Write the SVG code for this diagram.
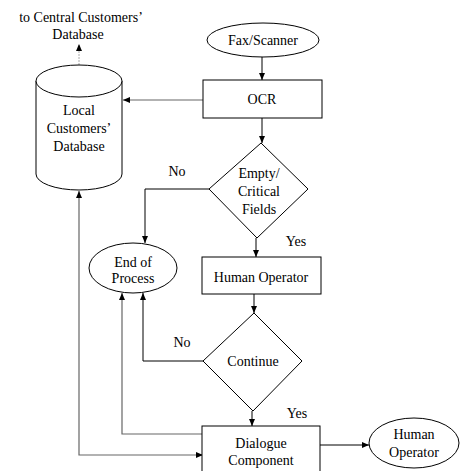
<svg xmlns="http://www.w3.org/2000/svg" width="461" height="471" viewBox="0 0 461 471" font-family="'Liberation Serif', 'Times New Roman', 'DejaVu Serif', serif">
<defs>
<marker id="ah" markerWidth="8" markerHeight="8" refX="7" refY="4" orient="auto" markerUnits="userSpaceOnUse">
<path d="M0,1 L7,4 L0,7 Z" fill="#000"/>
</marker>
<marker id="ahs" markerWidth="8" markerHeight="8" refX="1" refY="4" orient="auto" markerUnits="userSpaceOnUse">
<path d="M7,1 L0,4 L7,7 Z" fill="#000"/>
</marker>
<style>
text{font-family:'Liberation Serif','Times New Roman','DejaVu Serif',serif;font-size:14px;fill:#000;text-anchor:middle}
.s{fill:#fff;stroke:#000;stroke-width:1}
.c{fill:none;stroke:#000;stroke-width:1}
.g{fill:none;stroke:#666;stroke-width:1.2}
.d{fill:none;stroke:#aaa;stroke-width:1;stroke-dasharray:2,1}
</style>
</defs>
<rect width="461" height="471" fill="#fff"/>
<g id="connectors">
<path class="d" d="M79,65 V44" marker-end="url(#ah)"/>
<path class="g" d="M203,100 H123" marker-end="url(#ah)"/>
<path class="c" d="M262,57 V80" marker-end="url(#ah)"/>
<path class="c" d="M262,118 V143" marker-end="url(#ah)"/>
<path class="c" d="M209,189 H145 V243" marker-end="url(#ah)"/>
<path class="c" d="M256,238 V257" marker-end="url(#ah)"/>
<path class="c" d="M254,294 V313" marker-end="url(#ah)"/>
<path class="c" d="M203,361 H143 V293" marker-end="url(#ah)"/>
<path class="c" d="M252,411 V426" marker-end="url(#ah)"/>
<path class="g" d="M202,434 H122 V293" marker-end="url(#ah)"/>
<path class="g" d="M202,455 H79 V191" marker-end="url(#ah)" marker-start="url(#ahs)"/>
<path class="c" d="M320,445 H369" marker-end="url(#ah)"/>
</g>
<g id="central">
<text x="81" y="22">to Central Customers’</text>
<text x="78" y="39">Database</text>
</g>
<g id="local-db">
<path class="s" d="M36,81 V174 A43,16 0 0 0 122,174 V81"/>
<ellipse class="s" cx="79" cy="81" rx="43" ry="16"/>
<text x="79" y="115">Local</text>
<text x="79" y="133">Customers’</text>
<text x="79" y="151">Database</text>
</g>
<g id="fax">
<ellipse class="s" cx="263" cy="40" rx="56" ry="17"/>
<text x="263" y="45">Fax/Scanner</text>
</g>
<g id="ocr">
<rect class="s" x="203" y="80" width="119" height="38"/>
<text x="262" y="104">OCR</text>
</g>
<g id="empty">
<path class="s" d="M261,143 L308,189 L257,238 L209,189 Z"/>
<text x="259" y="178">Empty/</text>
<text x="259" y="196">Critical</text>
<text x="259" y="214">Fields</text>
<text x="177" y="176">No</text>
<text x="296" y="246">Yes</text>
</g>
<g id="end">
<ellipse class="s" cx="133" cy="268" rx="44" ry="25"/>
<text x="133" y="267">End of</text>
<text x="133" y="283">Process</text>
</g>
<g id="human-op">
<rect class="s" x="202" y="257" width="119" height="37"/>
<text x="261" y="282">Human Operator</text>
</g>
<g id="continue">
<path class="s" d="M254,313 L302,361 L253,411 L203,361 Z"/>
<text x="253" y="366">Continue</text>
<text x="182" y="347">No</text>
<text x="297" y="418">Yes</text>
</g>
<g id="dialogue">
<rect class="s" x="202" y="426" width="118" height="50"/>
<text x="261" y="448">Dialogue</text>
<text x="261" y="465">Component</text>
</g>
<g id="human-op2">
<ellipse class="s" cx="414" cy="443" rx="45" ry="25"/>
<text x="414" y="439">Human</text>
<text x="414" y="457">Operator</text>
</g>
</svg>
